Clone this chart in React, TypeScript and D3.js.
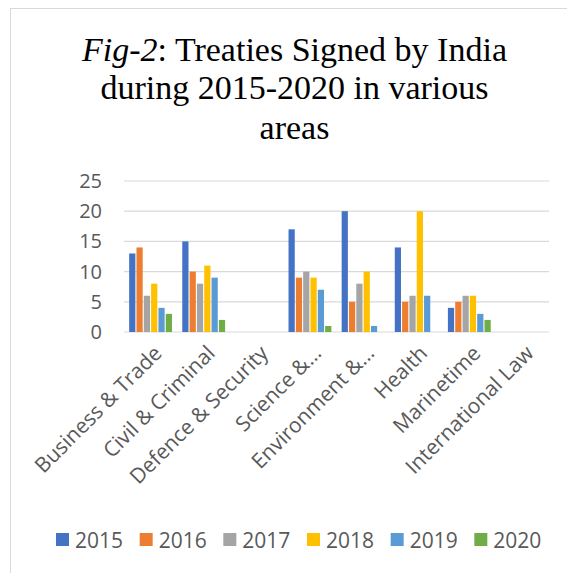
import React from "react";
import * as d3 from "d3";

const categories = [
  "Business & Trade",
  "Civil & Criminal",
  "Defence & Security",
  "Science &…",
  "Environment &…",
  "Health",
  "Marinetime",
  "International Law",
];
const years = ["2015", "2016", "2017", "2018", "2019", "2020"];
const colors = ["#4472C4", "#ED7D31", "#A5A5A5", "#FFC000", "#5B9BD5", "#70AD47"];
const s2015 = [13, 15, 0, 17, 20, 14, 4, 0];
const s2016 = [14, 10, 0, 9, 5, 5, 5, 0];
const s2017 = [6, 8, 0, 10, 8, 6, 6, 0];
const s2018 = [8, 11, 0, 9, 10, 20, 6, 0];
const s2019 = [4, 9, 0, 7, 1, 6, 3, 0];
const s2020 = [3, 2, 0, 1, 0, 0, 2, 0];
const series = [s2015, s2016, s2017, s2018, s2019, s2020];
const yTicks = [0, 5, 10, 15, 20, 25];

const W = 567;
const H = 573;
const tickFont = "'Open Sans', 'Liberation Sans', sans-serif";

export default function App() {
  const x0 = d3
    .scaleBand<string>()
    .domain(categories)
    .range([124, 549])
    .paddingInner(0.194)
    .paddingOuter(0.097);
  const x1 = d3
    .scaleBand<string>()
    .domain(years)
    .range([0, x0.bandwidth()])
    .paddingInner(0.15);
  const y = d3.scaleLinear().domain([0, 25]).range([332, 181]);

  const legendX = d3.scaleBand<string>().domain(years).range([56, 558]);

  return (
    <svg
      width={W}
      height={H}
      style={{ position: "absolute", left: 0, top: 0, background: "#fff" }}
    >
      <rect x={10.5} y={8.5} width={700} height={700} fill="#fff" stroke="#d9d9d9" strokeWidth={1} />
      <g fontFamily="'Liberation Serif', 'Times New Roman', serif" fontSize={34} fill="#000" textAnchor="middle">
        <text x={294.5} y={60.7}>
          <tspan fontStyle="italic">Fig-2</tspan>
          <tspan>: Treaties Signed by India</tspan>
        </text>
        <text x={294.5} y={99.3}>during 2015-2020 in various</text>
        <text x={294.5} y={139}>areas</text>
      </g>
      <g>
        {yTicks.map((t) => (
          <g key={t}>
            <line x1={124} x2={549} y1={y(t)} y2={y(t)} stroke="#d9d9d9" strokeWidth={1.2} />
            <text
              x={102}
              y={y(t)}
              dy="0.35em"
              textAnchor="end"
              fontFamily={tickFont}
              fontSize={20}
              fill="#595959"
            >
              {t}
            </text>
          </g>
        ))}
      </g>
      <g>
        {categories.map((c, ci) => (
          <g key={c} transform={`translate(${x0(c)},0)`}>
            {series.map((s, si) =>
              s[ci] > 0 ? (
                <rect
                  key={si}
                  x={x1(years[si])}
                  y={y(s[ci])}
                  width={x1.bandwidth()}
                  height={y(0) - y(s[ci])}
                  fill={colors[si]}
                />
              ) : null
            )}
          </g>
        ))}
      </g>
      <g>
        {categories.map((c) => {
          const cx = (x0(c) as number) + x0.bandwidth() / 2;
          return (
            <text
              key={c}
              transform={`translate(${cx + 2},${344}) rotate(-45)`}
              textAnchor="end"
              dy="0.71em"
              fontFamily={tickFont}
              fontSize={21}
              fill="#595959"
            >
              {c}
            </text>
          );
        })}
      </g>
      <g>
        {years.map((yr, i) => (
          <g key={yr} transform={`translate(${legendX(yr)},540)`}>
            <rect x={0} y={-7} width={13} height={13} fill={colors[i]} />
            <text x={19} y={0} dy="0.36em" fontFamily={tickFont} fontSize={21} fill="#595959">
              {yr}
            </text>
          </g>
        ))}
      </g>
    </svg>
  );
}
